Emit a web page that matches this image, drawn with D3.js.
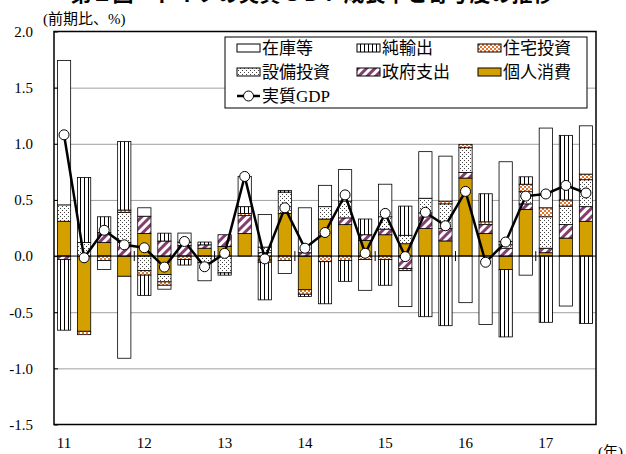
<!DOCTYPE html>
<html>
<head>
<meta charset="utf-8">
<script src="https://cdn.jsdelivr.net/npm/d3@7"></script>
<style>
  body { margin: 0; background: #fff; }
  svg text { font-family: "Liberation Serif", "Noto Sans CJK JP", serif; fill: #000; }
</style>
</head>
<body>
<div id="chart"></div>
<script>
'use strict';

// quarters on the x axis (2011Q1 .. 2017Q3)
var quarters = ["11Q1", "11Q2", "11Q3", "11Q4", "12Q1", "12Q2", "12Q3", "12Q4",
  "13Q1", "13Q2", "13Q3", "13Q4", "14Q1", "14Q2", "14Q3", "14Q4",
  "15Q1", "15Q2", "15Q3", "15Q4", "16Q1", "16Q2", "16Q3", "16Q4",
  "17Q1", "17Q2", "17Q3"];
var yearLabels = ["11", "12", "13", "14", "15", "16", "17"];
var yearStarts = ["11Q1", "12Q1", "13Q1", "14Q1", "15Q1", "16Q1", "17Q1"];
var yTicks = [-1.5, -1.0, -0.5, 0, 0.5, 1.0, 1.5, 2.0];

// contributions (% points)
var consumption = [0.31, -0.67, 0.12, -0.18, 0.20, -0.165, 0.0, 0.07, 0.085, 0.20, -0.035, 0.38, -0.30, 0.33,
  0.28, 0.14, 0.19, 0.11, 0.245, 0.135, 0.695, 0.20, -0.12, 0.415, 0.03, 0.16, 0.31];
var government = [-0.03, 0.0, 0.09, 0.12, 0.155, 0.134, 0.095, 0.03, 0.105, 0.16, 0.03, 0.0, 0.03, 0.0,
  0.06, 0.05, 0.05, -0.11, 0.14, 0.11, 0.05, 0.08, 0.07, 0.05, 0.04, 0.12, 0.13];
var capex = [0.146, 0.12, 0.0, 0.27, -0.13, -0.065, 0.03, -0.06, -0.15, 0.0, 0.05, 0.19, 0.0, 0.11,
  0.15, 0.0, 0.11, 0.075, 0.13, 0.22, 0.22, 0.0, 0.03, 0.108, 0.28, 0.165, 0.24];
var housing = [0.0, -0.03, -0.04, 0.02, -0.04, -0.03, -0.03, 0.0, 0.0, 0.02, -0.02, -0.04, -0.04, -0.05,
  -0.04, -0.03, -0.03, -0.02, 0.0, 0.025, 0.03, 0.025, 0.03, 0.067, 0.08, 0.055, 0.05];
var netExports = [-0.63, 0.58, 0.14, 0.61, -0.18, 0.07, -0.05, 0.025, -0.02, 0.06, -0.335, 0.015, -0.02, -0.375,
  -0.185, 0.14, -0.23, 0.26, -0.54, -0.62, 0.0, 0.25, -0.60, 0.066, -0.59, 0.575, -0.60];
var inventory = [1.285, 0.0, -0.08, -0.73, 0.075, -0.035, 0.08, -0.16, 0.0, 0.27, 0.29, -0.115, 0.40, 0.19,
  0.28, -0.275, 0.29, -0.32, 0.415, 0.40, -0.415, -0.61, 0.71, -0.17, 0.71, -0.445, 0.43];
// real GDP, q/q %
var gdp = [1.08, -0.015, 0.23, 0.10, 0.074, -0.098, 0.13, -0.095, 0.024, 0.709, -0.025, 0.43, 0.07, 0.21,
  0.545, 0.025, 0.38, -0.005, 0.39, 0.27, 0.576, -0.055, 0.125, 0.534, 0.553, 0.629, 0.562];

var seriesKeys = ["consumption", "government", "capex", "housing", "netExports", "inventory"];
var seriesNames = ["個人消費", "政府支出", "設備投資", "住宅投資", "純輸出", "在庫等"];

var table = quarters.map(function (q, i) {
  return {
    quarter: q,
    consumption: consumption[i],
    government: government[i],
    capex: capex[i],
    housing: housing[i],
    netExports: netExports[i],
    inventory: inventory[i],
    gdp: gdp[i]
  };
});

var width = 626, height = 454;
var plot = { left: 54, right: 596, top: 31.5, bottom: 424.5 };

var svg = d3.select("#chart")
  .append("svg")
  .attr("width", width)
  .attr("height", height);

// patterns for the hatched series
var defs = svg.append("defs");

var vstripe = defs.append("pattern")
  .attr("id", "vstripe")
  .attr("patternUnits", "userSpaceOnUse")
  .attr("width", 4).attr("height", 4);
vstripe.append("rect").attr("width", 4).attr("height", 4).attr("fill", "#fff");
vstripe.append("rect").attr("x", 0).attr("width", 1).attr("height", 4).attr("fill", "#000");

var dots = defs.append("pattern")
  .attr("id", "dots")
  .attr("patternUnits", "userSpaceOnUse")
  .attr("width", 4).attr("height", 4);
dots.append("rect").attr("width", 4).attr("height", 4).attr("fill", "#fff");
dots.append("rect").attr("x", 0).attr("y", 0).attr("width", 1).attr("height", 1).attr("fill", "#444");
dots.append("rect").attr("x", 2).attr("y", 2).attr("width", 1).attr("height", 1).attr("fill", "#444");

var checker = defs.append("pattern")
  .attr("id", "checker")
  .attr("patternUnits", "userSpaceOnUse")
  .attr("width", 4).attr("height", 4);
checker.append("rect").attr("width", 4).attr("height", 4).attr("fill", "#E8762D");
checker.append("rect").attr("x", 0).attr("y", 0).attr("width", 2).attr("height", 2).attr("fill", "#fff");
checker.append("rect").attr("x", 2).attr("y", 2).attr("width", 2).attr("height", 2).attr("fill", "#fff");

var hatch = defs.append("pattern")
  .attr("id", "hatch")
  .attr("patternUnits", "userSpaceOnUse")
  .attr("width", 6).attr("height", 6)
  .attr("patternTransform", "rotate(45)");
hatch.append("rect").attr("width", 6).attr("height", 6).attr("fill", "#fff");
hatch.append("rect").attr("width", 3).attr("height", 6).attr("fill", "#843D6F");

var fills = {
  consumption: "#D4A000",
  government: "url(#hatch)",
  capex: "url(#dots)",
  housing: "url(#checker)",
  netExports: "url(#vstripe)",
  inventory: "#fff"
};

// scales
var x = d3.scaleBand()
  .domain(quarters)
  .range([plot.left, plot.right])
  .paddingInner(0.34)
  .paddingOuter(0.17);

var y = d3.scaleLinear()
  .domain([-1.5, 2.0])
  .range([plot.bottom, plot.top]);

var fmt = function (v) { return d3.format(".1f")(v).replace("\u2212", "-"); };

// gridlines
svg.append("g")
  .attr("transform", "translate(" + plot.left + ",0)")
  .call(d3.axisLeft(y)
    .tickValues(yTicks.filter(function (v) { return v !== 0 && v !== 2.0 && v !== -1.5; }))
    .tickSize(-(plot.right - plot.left))
    .tickFormat(""))
  .call(function (g) { g.select(".domain").remove(); })
  .selectAll("line")
  .attr("stroke", "#a0a0a0")
  .attr("stroke-width", 1);

// stacked bars
var stacked = d3.stack()
  .keys(seriesKeys)
  .offset(d3.stackOffsetDiverging)(table);

svg.append("g")
  .selectAll("g")
  .data(stacked)
  .enter()
  .append("g")
  .attr("fill", function (s) { return fills[s.key]; })
  .selectAll("rect")
  .data(function (s) { return s.filter(function (d) { return d[1] - d[0] !== 0; }); })
  .enter()
  .append("rect")
  .attr("x", function (d) { return x(d.data.quarter); })
  .attr("width", x.bandwidth())
  .attr("y", function (d) { return y(Math.max(d[0], d[1])); })
  .attr("height", function (d) { return Math.abs(y(d[0]) - y(d[1])); })
  .attr("stroke", "#000")
  .attr("stroke-width", 0.8);

// zero line and year separators
svg.append("line")
  .attr("x1", plot.left).attr("x2", plot.right)
  .attr("y1", y(0)).attr("y2", y(0))
  .attr("stroke", "#000").attr("stroke-width", 1);

svg.append("g")
  .selectAll("line")
  .data(yearStarts.slice(1))
  .enter()
  .append("line")
  .attr("x1", function (d) { return x(d) - x.step() * 0.17; })
  .attr("x2", function (d) { return x(d) - x.step() * 0.17; })
  .attr("y1", y(0) - 5).attr("y2", y(0) + 5)
  .attr("stroke", "#000");

// y axis
svg.append("g")
  .attr("transform", "translate(" + plot.left + ",0)")
  .call(d3.axisLeft(y)
    .tickValues(yTicks)
    .tickSize(-4)
    .tickPadding(21)
    .tickFormat(fmt))
  .call(function (g) {
    g.select(".domain").remove();
    g.selectAll("line").attr("stroke", "#000");
    g.selectAll("text")
      .style("font-size", "15px")
      .style("font-family", "'Liberation Serif', serif");
  });

// x axis (year labels)
svg.append("g")
  .attr("transform", "translate(0," + plot.bottom + ")")
  .call(d3.axisBottom(x)
    .tickValues(yearStarts)
    .tickSize(0)
    .tickPadding(13)
    .tickFormat(function (d) { return yearLabels[yearStarts.indexOf(d)]; }))
  .call(function (g) {
    g.select(".domain").remove();
    g.selectAll("text")
      .style("font-size", "15px")
      .style("font-family", "'Liberation Serif', serif");
  });

// frame
svg.append("rect")
  .attr("x", plot.left).attr("y", plot.top)
  .attr("width", plot.right - plot.left)
  .attr("height", plot.bottom - plot.top)
  .attr("fill", "none")
  .attr("stroke", "#000")
  .attr("stroke-width", 1.5);

// real GDP line
var line = d3.line()
  .x(function (d) { return x(d.quarter) + x.bandwidth() / 2; })
  .y(function (d) { return y(d.gdp); });

svg.append("path")
  .datum(table)
  .attr("d", line)
  .attr("fill", "none")
  .attr("stroke", "#000")
  .attr("stroke-width", 2.5);

svg.append("g")
  .selectAll("circle")
  .data(table)
  .enter()
  .append("circle")
  .attr("cx", function (d) { return x(d.quarter) + x.bandwidth() / 2; })
  .attr("cy", function (d) { return y(d.gdp); })
  .attr("r", 5)
  .attr("fill", "#fff")
  .attr("stroke", "#000")
  .attr("stroke-width", 1);

// legend
var legend = svg.append("g");
legend.append("rect")
  .attr("x", 225).attr("y", 37)
  .attr("width", 362).attr("height", 71)
  .attr("fill", "#fff")
  .attr("stroke", "#000")
  .attr("stroke-width", 1);

var legendOrder = ["inventory", "netExports", "housing", "capex", "government", "consumption"];
var colX = [237, 357, 478];
var rowY = [48, 72, 96];

legendOrder.forEach(function (key, i) {
  var lx = colX[i % 3], ly = rowY[Math.floor(i / 3)];
  legend.append("rect")
    .attr("x", lx).attr("y", ly - 4)
    .attr("width", 23).attr("height", 8)
    .attr("fill", fills[key])
    .attr("stroke", "#000")
    .attr("stroke-width", 1);
  legend.append("text")
    .attr("x", lx + 25).attr("y", ly)
    .attr("dy", "0.35em")
    .style("font-size", "17px")
    .text(seriesNames[seriesKeys.indexOf(key)]);
});

legend.append("line")
  .attr("x1", colX[0]).attr("x2", colX[0] + 23)
  .attr("y1", rowY[2]).attr("y2", rowY[2])
  .attr("stroke", "#000").attr("stroke-width", 2.5);
legend.append("circle")
  .attr("cx", colX[0] + 11.5).attr("cy", rowY[2])
  .attr("r", 5).attr("fill", "#fff").attr("stroke", "#000");
legend.append("text")
  .attr("x", colX[0] + 25).attr("y", rowY[2])
  .attr("dy", "0.35em")
  .style("font-size", "17px")
  .text("実質GDP");

// title (cut off at the top edge, as in the source image)
svg.append("text")
  .attr("x", 312).attr("y", 1)
  .attr("text-anchor", "middle")
  .style("font-size", "21px")
  .style("font-weight", "bold")
  .text("第１図　ドイツの実質ＧＤＰ成長率と寄与度の推移");

svg.append("text")
  .attr("x", 43).attr("y", 19)
  .attr("dy", "0.35em")
  .style("font-size", "15px")
  .text("(前期比、%)");

svg.append("text")
  .attr("x", 598).attr("y", 452)
  .attr("dy", "0.35em")
  .style("font-size", "15px")
  .text("(年)");
</script>
</body>
</html>
